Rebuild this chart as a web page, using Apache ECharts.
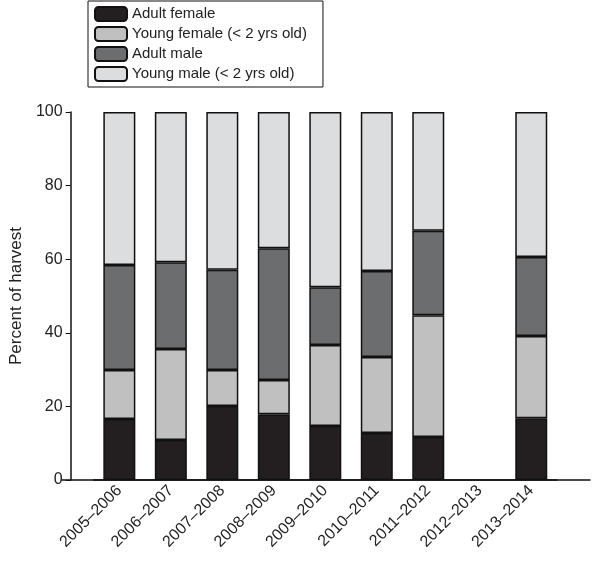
<!DOCTYPE html>
<html>
<head>
<meta charset="utf-8">
<script src="https://cdn.jsdelivr.net/npm/echarts@6/dist/echarts.min.js"></script>
<style>html,body{margin:0;background:#fff}#main{width:600px;height:564px}</style>
</head>
<body>
<div id="main"></div>
<script>
// harvest composition by season
var seasons = ['2005–2006', '2006–2007', '2007–2008', '2008–2009', '2009–2010', '2010–2011', '2011–2012', '2012–2013', '2013–2014'];
var adultFemale = [16.6, 10.9, 20.1, 17.9, 14.7, 12.8, 11.7, null, 16.8];
var youngFemale = [13.3, 24.7, 9.8, 9.3, 22.0, 20.6, 33.1, null, 22.3];
var adultMale = [28.5, 23.6, 27.2, 35.8, 15.7, 23.4, 22.9, null, 21.5];
var youngMale = [41.6, 40.8, 42.9, 37.0, 47.6, 43.2, 32.3, null, 39.4];
var yTicks = [0, 20, 40, 60, 80, 100];

var myChart = echarts.init(document.getElementById('main'));

function bar(name, data, color) {
    return {
        name: name, type: 'bar', stack: 'h', data: data, barWidth: 32,
        itemStyle: {color: color, borderColor: '#111', borderWidth: 1.5}
    };
}

var option = {
    backgroundColor: '#fff',
    textStyle: {fontFamily: 'Liberation Sans'},
    legend: {
        orient: 'vertical', left: 88, top: 1,
        backgroundColor: '#fff', borderColor: '#111', borderWidth: 1,
        padding: [5, 16, 5, 6], itemGap: 4, itemWidth: 32, itemHeight: 14,
        textStyle: {fontSize: 15, color: '#222'},
        data: ['Adult female', 'Young female (< 2 yrs old)', 'Adult male', 'Young male (< 2 yrs old)']
    },
    grid: [
        {left: 85, right: 43, top: 112, bottom: 84},
        {left: 62, right: 10, top: 112, bottom: 84}
    ],
    xAxis: [{
        type: 'category', data: seasons, gridIndex: 0,
        axisLine: {lineStyle: {color: '#111', width: 1.5}},
        axisTick: {alignWithLabel: true, length: 4, lineStyle: {color: '#111'}},
        axisLabel: {rotate: 45, fontSize: 16, color: '#222', margin: 8}
    }, {
        type: 'category', data: [''], gridIndex: 1,
        axisLine: {lineStyle: {color: '#111', width: 1.5}},
        axisTick: {show: false}, axisLabel: {show: false}
    }],
    yAxis: [{
        type: 'value', min: 0, max: 100, interval: 20, gridIndex: 0, offset: 23,
        name: 'Percent of harvest', nameLocation: 'middle', nameGap: 40,
        nameTextStyle: {fontSize: 17, color: '#222'},
        axisLine: {show: true, lineStyle: {color: '#111', width: 1.5}},
        axisTick: {show: true, length: 5, lineStyle: {color: '#111'}},
        axisLabel: {fontSize: 16, color: '#222', formatter: function (v) { return yTicks.indexOf(v) >= 0 ? v : ''; }},
        splitLine: {show: false}
    }, {
        type: 'value', gridIndex: 1, show: false
    }],
    series: [
        bar('Adult female', adultFemale, '#231f20'),
        bar('Young female (< 2 yrs old)', youngFemale, '#c0c0c0'),
        bar('Adult male', adultMale, '#6c6d6f'),
        bar('Young male (< 2 yrs old)', youngMale, '#dcdddf')
    ]
};

myChart.setOption(option);
</script>
</body>
</html>
